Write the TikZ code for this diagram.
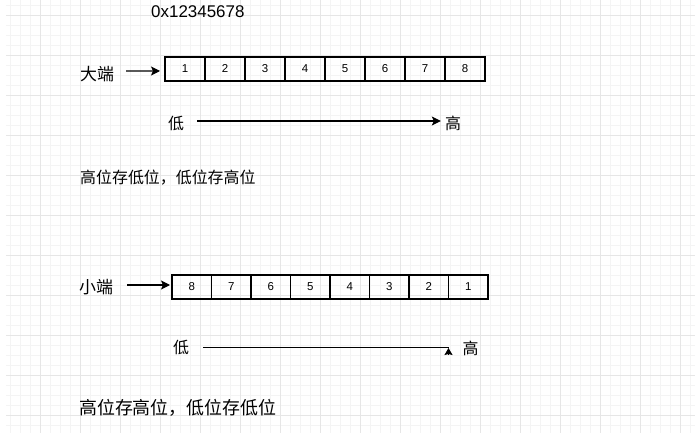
\documentclass[tikz,border=0pt]{standalone}
\usepackage{fontspec}
\setmainfont{Liberation Sans}
\newfontfamily\cjk{Noto Sans CJK SC}
\usetikzlibrary{positioning,arrows.meta}
\definecolor{gridmajor}{HTML}{E6E6E6}
\definecolor{gridminor}{HTML}{F4F4F4}
\tikzset{
    minor line/.style = {
        draw = gridminor,
        line width = 0.8bp,
        },
    major line/.style = {
        draw = gridmajor,
        line width = 0.8bp,
        },
    cell/.style = {
        draw,
        line width = 1.1bp,
        minimum width = 40bp,
        minimum height = 24bp,
        inner sep = 0pt,
        outer sep = 0pt,
        font = \fontsize{11.5}{11.5}\selectfont,
        },
    narrow/.style = {
        minimum width = 39.5bp,
        },
    label/.style = {
        inner sep = 0pt,
        font = \cjk\fontsize{17}{17}\selectfont,
        },
    side/.style = {
        inner sep = 0pt,
        font = \cjk\fontsize{16}{16}\selectfont,
        },
    arr/.style = {
        line width = 1.1bp,
        -{Stealth[length=9bp, width=9bp, inset=2bp]},
        },
    tipup/.style = {
        line width = 1.1bp,
        -{Stealth[length=7bp, width=8bp, inset=1bp]},
        },
}

\begin{document}
\begin{tikzpicture}[x=1bp, y=-1bp]
            \fill[white] (0,0) rectangle (695,445);
            \useasboundingbox (0,0) rectangle (695,445);
            % grid
            \foreach \x in {10,20,...,690} \draw[minor line] (\x,0) -- (\x,433);
            \foreach \y in {5,15,...,425} \draw[minor line] (6,\y) -- (695,\y);
            \foreach \x in {40,80,...,680} \draw[major line] (\x,0) -- (\x,433);
            \foreach \y in {15,55,...,415} \draw[major line] (6,\y) -- (695,\y);

            \node[inner sep=0pt, anchor=base west, font=\fontsize{17}{17}\selectfont] (hex) at (151,18) {0x12345678};

            % big endian
            \node[label] (big) at (97,74) {大端};
            \node[cell] (b1) at (185,69) {1};
            \node[cell, right=0pt of b1] (b2) {2};
            \node[cell, right=0pt of b2] (b3) {3};
            \node[cell, right=0pt of b3] (b4) {4};
            \node[cell, right=0pt of b4] (b5) {5};
            \node[cell, right=0pt of b5] (b6) {6};
            \node[cell, right=0pt of b6] (b7) {7};
            \node[cell, right=0pt of b7] (b8) {8};
            \node[side] (low1) at (176,123) {低};
            \node[side] (high1) at (453,123) {高};
            \node[side, anchor=west] (rule1) at (80,178) {高位存低位，低位存高位};

            \draw[arr] ([xshift=12bp, yshift=3bp]big.east) -- ([xshift=-5bp, yshift=-2bp]b1.west);
            \draw[arr] ([xshift=13bp, yshift=2bp]low1.east) -- ([xshift=-4bp, yshift=2bp]high1.west);

            % little endian
            \node[label] (little) at (96,287) {小端};
            \node[cell, narrow] (l1) at (191.75,287) {8};
            \node[cell, narrow, right=0pt of l1] (l2) {7};
            \node[cell, narrow, right=0pt of l2] (l3) {6};
            \node[cell, narrow, right=0pt of l3] (l4) {5};
            \node[cell, narrow, right=0pt of l4] (l5) {4};
            \node[cell, narrow, right=0pt of l5] (l6) {3};
            \node[cell, narrow, right=0pt of l6] (l7) {2};
            \node[cell, narrow, right=0pt of l7] (l8) {1};
            \node[side] (low2) at (181,347.5) {低};
            \node[side] (high2) at (470.5,348) {高};
            \coordinate (tip2) at (448.5,348);
            \node[side, anchor=west, font=\cjk\fontsize{18}{18}\selectfont] (rule2) at (79,407.5) {高位存高位，低位存低位};

            \draw[arr] ([xshift=14bp, yshift=2bp]little.east) -- ([xshift=-2bp, yshift=2bp]l1.west);
            \draw[line width=1.1bp] ([xshift=14bp]low2.east) -- (tip2 |- low2);
            \draw[tipup] ([yshift=-7bp]tip2) -- (tip2);
        \end{tikzpicture}
\end{document}
